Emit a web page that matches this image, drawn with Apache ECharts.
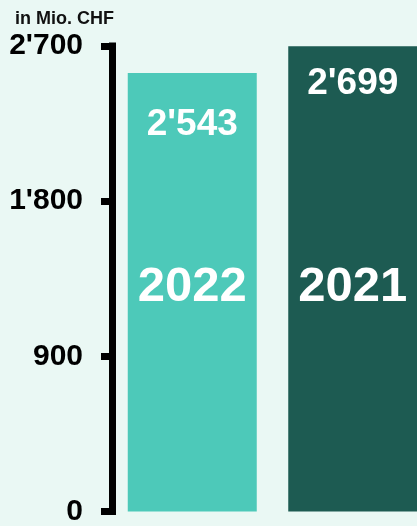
<!DOCTYPE html>
<html>
<head>
<meta charset="utf-8">
<style>
  html, body { margin: 0; padding: 0; background: #eaf8f4; }
  #chart { width: 417px; height: 526px; }
</style>
<script src="https://cdn.jsdelivr.net/npm/echarts@6/dist/echarts.min.js"></script>
</head>
<body>
<div id="chart"></div>
<script>
const categories = ["2022", "2021"];
const values = [2543, 2699];
const barColors = ["#4dc9b9", "#1d5b52"];
const yTicks = [0, 900, 1800, 2700];
const unitLabel = "in Mio. CHF";

const labelDistances = [33, 19];

function fmt(v) {
  return String(v).replace(/\B(?=(\d{3})+(?!\d))/g, "'");
}

const chart = echarts.init(document.getElementById('chart'), null, { renderer: 'canvas' });
chart.setOption({
  backgroundColor: '#eaf8f4',
  animation: false,
  textStyle: { fontFamily: 'Liberation Sans, Arial, sans-serif' },
  title: {
    text: unitLabel,
    left: 10,
    top: 5,
    textStyle: { fontSize: 18, fontWeight: 'bold', color: '#111', fontFamily: 'Liberation Sans, Arial, sans-serif' }
  },
  grid: { left: 112, top: 46, bottom: 14.5, width: 321, containLabel: false, outerBoundsMode: 'none' },
  xAxis: {
    type: 'category',
    data: categories,
    z: 10,
    axisLine: { show: false },
    axisTick: { show: false },
    axisLabel: {
      inside: true,
      margin: 200,
      color: '#ffffff',
      fontSize: 49,
      fontWeight: 'bold',
      verticalAlign: 'bottom',
      fontFamily: 'Liberation Sans, Arial, sans-serif'
    }
  },
  yAxis: {
    type: 'value',
    min: yTicks[0],
    max: yTicks[yTicks.length - 1],
    interval: yTicks[1] - yTicks[0],
    splitLine: { show: false },
    axisLine: { show: true, lineStyle: { color: '#000', width: 7, cap: 'square' } },
    axisTick: { show: true, length: 11, lineStyle: { color: '#000', width: 7 } },
    axisLabel: {
      margin: 29,
      color: '#000',
      fontSize: 30,
      fontWeight: 'bold',
      fontFamily: 'Liberation Sans, Arial, sans-serif',
      formatter: v => fmt(v)
    }
  },
  series: [{
    type: 'bar',
    barWidth: 129,
    data: values.map((v, i) => ({
      value: v,
      itemStyle: { color: barColors[i] },
      label: { distance: labelDistances[i] }
    })),
    label: {
      show: true,
      position: 'insideTop',
      color: '#ffffff',
      fontSize: 37,
      fontWeight: 'bold',
      fontFamily: 'Liberation Sans, Arial, sans-serif',
      formatter: p => fmt(p.value)
    }
  }]
});
</script>
</body>
</html>
